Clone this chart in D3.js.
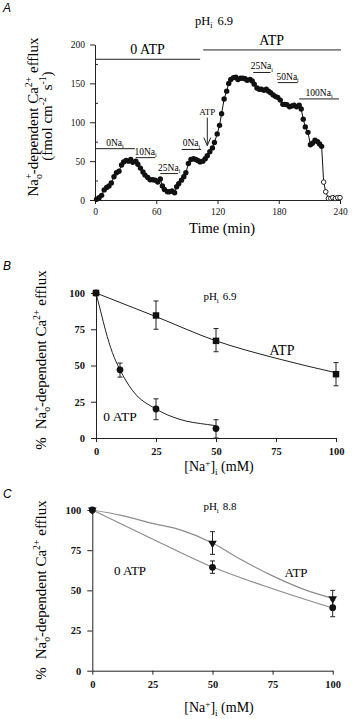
<!DOCTYPE html>
<html><head><meta charset="utf-8">
<script src="https://cdn.jsdelivr.net/npm/d3@7"></script>
<style>html,body{margin:0;padding:0;background:#fff;}svg{display:block;}</style>
</head><body>
<script>
// ---------- Panel A data (time course) ----------
const timeClosed = [1.6,4,6.5,9,11.4,13.7,16,18.6,21,23.5,26,28,30.4,32.7,35,37,40,42,44.5,47,49,51.7,54,56.6,59,61.5,64,66,68,71,73,75.5,78,80,82,84.7,87,89,91.5,94,96.5,98.8,101,103,105.6,108,110,112.5,115,117,119.7,122,124,126.5,129,131,133,135.7,138,140,142.6,145,147,149,152,154,156,158.6,161,163,165.5,167.8,170,172,174.6,177,179,181.5,184,186,188,190.6,193,195,197.5,200,202,204,206,208.6,211,213,215.5,218,220,222];
const effluxClosed = [1,3,6,13,16,18,22,30,35,37,45,49,51,50,52,48.5,50,46,41,36,32,29,26,26,25.5,23,27,18,13.6,10.6,10.6,11.5,9.4,17,21,25.5,30,35,47,52,53,52,50.6,49,50,53,57,62,67,74,85,96,111,130,140,150,155,157.4,158,155,156.6,156.6,156,154,155,153,149,144,142.5,142.5,141,142.5,140,138,135,133,132,128.5,123,123,122.5,120,121,122,120,122,117,104,94,87,71,73,77,75,72,69];
const timeOpen = [224,226,228.6,231,233,235.5,237.7,240];
const effluxOpen = [23,10.6,2,2,3,2,3,3];
const xTicksA = [0,60,120,180,240];
const yTicksA = [0,50,100,150,200];
const yMinorA = [25,75,125,175];
// condition bars: label, start (min), end (min), level (fmol)
const condLabels = ["0Na","10Na","25Na","0Na","25Na","50Na","100Na"];
const condStart  = [0,40,64,85,155,179,200];
const condEnd    = [39,59,81.4,104,172,198.5,239];
const condLevel  = [66,54.5,34,65,164,151,130];
const atpLabels = ["0 ATP","ATP"];
const atpStart = [0,106];
const atpEnd = [103,241];
const atpLevel = [181,193];
const arrowTime = 110, arrowTop = 106, arrowBottom = 70;

// ---------- Panel B data (pHi 6.9) ----------
const naB_ATP = [0,25,50,100];
const effB_ATP = [100,84.5,67,44];
const errLoB_ATP = [100,75,59.5,36];
const errHiB_ATP = [100,94.5,75.5,52];
const naB_0ATP = [0,10,25,50];
const effB_0ATP = [100,47,20,6.5];
const errLoB_0ATP = [100,42,12.6,0];
const errHiB_0ATP = [100,51.7,27,12.6];
const fitB_ATP_x = [0,25,50,75,100];
const fitB_ATP_y = [100,83.7,67,55,45];
const fitB_0ATP_x = [0,2,4,6.8,10,15.1,25,34.6,46.4,50];
const fitB_0ATP_y = [100,87,74,59,47,33,20,13,9.3,8.5];

// ---------- Panel C data (pHi 8.8) ----------
const naC = [0,50,100];
const effC_ATP = [100,79.3,44.8];
const errLoC_ATP = [100,72.4,40];
const errHiC_ATP = [100,86.5,50];
const effC_0ATP = [100,64.3,39.2];
const errLoC_0ATP = [100,60.6,33.6];
const errHiC_0ATP = [100,68.3,44];
const fitC_ATP_x = [0,12.5,25,37,50,62,75,88,100];
const fitC_ATP_y = [100,96.5,91.7,87.5,79.5,69,59,50.6,45];
const fitC_0ATP_x = [0,25,50,75,100];
const fitC_0ATP_y = [100,82,64.5,51,39];
const ticksBC = [0,25,50,75,100];

// ---------- drawing ----------
const serif = "'Liberation Serif','Times New Roman',serif";
const sans = "'Liberation Sans',Arial,sans-serif";
const svg = d3.select("body").append("svg").attr("width",352).attr("height",719)
  .style("font-family", serif);

function rich(text, parts, fs) {
  let shift = 0;
  parts.forEach(p => {
    const target = p.s === "sup" ? -0.38*fs : p.s === "sub" ? 0.25*fs : 0;
    const ts = text.append("tspan").text(p.t).attr("dy", target - shift);
    if (p.s) ts.attr("font-size", fs*0.65);
    if (p.dx) ts.attr("dx", p.dx);
    shift = target;
  });
  return text;
}
function yLabelParts(fs) {
  return [{t:"Na"},{t:"+",s:"sup"},{t:"o",s:"sub",dx:-0.37*fs},{t:"-dependent Ca"},{t:"2+",s:"sup"},{t:" efflux"}];
}
function styleAxis(g, fs, bold) {
  g.select(".domain").attr("stroke","#222").attr("stroke-width",1);
  g.selectAll(".tick line").attr("stroke","#222");
  g.selectAll("text").attr("font-family",serif).attr("font-size",fs).attr("fill","#111")
    .attr("font-weight", bold ? "bold" : "normal");
}

// ===== Panel A =====
const xA = d3.scaleLinear().domain([0,240]).range([95,340]);
const yA = d3.scaleLinear().domain([0,200]).range([200,44.5]);
const gA = svg.append("g");
svg.append("text").attr("x",3).attr("y",12).attr("font-family",sans).attr("font-style","italic")
  .attr("font-size",12).text("A");
gA.append("g").attr("transform","translate(0,200)")
  .call(d3.axisBottom(xA).tickValues(xTicksA).tickSize(4).tickPadding(4).tickSizeOuter(0))
  .call(g => styleAxis(g, 9.5, false));
gA.append("g").attr("transform","translate(95,0)")
  .call(d3.axisLeft(yA).tickValues(yTicksA).tickSize(5).tickPadding(5).tickSizeOuter(0))
  .call(g => styleAxis(g, 9.5, false));
gA.append("g").attr("transform","translate(95,0)")
  .call(d3.axisRight(yA).tickValues(yMinorA).tickSize(3).tickFormat(""))
  .call(g => { g.select(".domain").remove(); g.selectAll(".tick line").attr("stroke","#222"); });

// condition bars
const atpData = atpLabels.map((l,i)=>({l, s:atpStart[i], e:atpEnd[i], v:atpLevel[i]}));
gA.selectAll(".atpbar").data(atpData).enter().append("line")
  .attr("x1",d=>xA(d.s)).attr("x2",d=>xA(d.e)).attr("y1",d=>yA(d.v)).attr("y2",d=>yA(d.v))
  .attr("stroke","#222").attr("stroke-width",1);
gA.selectAll(".atplab").data(atpData).enter().append("text")
  .attr("x",d=>xA((d.s+Math.min(d.e,240))/2)).attr("y",d=>yA(d.v)-5)
  .attr("text-anchor","middle").attr("font-size",14).text(d=>d.l);
const condData = condLabels.map((l,i)=>({l, s:condStart[i], e:condEnd[i], v:condLevel[i]}));
gA.selectAll(".cbar").data(condData).enter().append("line")
  .attr("x1",d=>xA(d.s)).attr("x2",d=>xA(d.e)).attr("y1",d=>yA(d.v)).attr("y2",d=>yA(d.v))
  .attr("stroke","#222").attr("stroke-width",1);
condData.forEach(d => {
  const t = gA.append("text").attr("x",xA((d.s+d.e)/2)).attr("y",yA(d.v)-3)
    .attr("text-anchor","middle").attr("font-size",9.5);
  rich(t,[{t:d.l},{t:"i",s:"sub"}],9.5);
});
// ATP arrow
gA.append("line").attr("x1",xA(arrowTime)).attr("x2",xA(arrowTime))
  .attr("y1",yA(arrowTop)).attr("y2",yA(arrowBottom)).attr("stroke","#222");
gA.append("path").attr("d",`M${xA(arrowTime)-3.5},${yA(arrowBottom)-8}L${xA(arrowTime)},${yA(arrowBottom)}L${xA(arrowTime)+3.5},${yA(arrowBottom)-8}`)
  .attr("fill","none").attr("stroke","#222");
gA.append("text").attr("x",xA(arrowTime)).attr("y",yA(arrowTop)-3).attr("text-anchor","middle")
  .attr("font-size",9).text("ATP");

// trace
const allA = timeClosed.map((t,i)=>[t,effluxClosed[i]]).concat(timeOpen.map((t,i)=>[t,effluxOpen[i]]));
gA.append("path").datum(allA).attr("fill","none").attr("stroke","#111").attr("stroke-width",1)
  .attr("d", d3.line().x(d=>xA(d[0])).y(d=>yA(d[1])));
gA.selectAll(".cpt").data(timeClosed.map((t,i)=>[t,effluxClosed[i]])).enter().append("circle")
  .attr("cx",d=>xA(d[0])).attr("cy",d=>yA(d[1])).attr("r",2.7).attr("fill","#111");
gA.selectAll(".opt").data(timeOpen.map((t,i)=>[t,effluxOpen[i]])).enter().append("circle")
  .attr("cx",d=>xA(d[0])).attr("cy",d=>yA(d[1])).attr("r",2.3).attr("fill","#fff")
  .attr("stroke","#111").attr("stroke-width",0.9);

// labels A
rich(gA.append("text").attr("x",214).attr("y",25).attr("text-anchor","middle").attr("font-size",12.5),
  [{t:"pH"},{t:"i",s:"sub"},{t:"6.9",dx:5}],12.5);
gA.append("text").attr("x",222).attr("y",233).attr("text-anchor","middle").attr("font-size",14.5).text("Time (min)");
rich(gA.append("text").attr("transform","translate(38,117) rotate(-90)").attr("text-anchor","middle").attr("font-size",15),
  yLabelParts(15),15);
rich(gA.append("text").attr("transform","translate(52,116) rotate(-90)").attr("text-anchor","middle").attr("font-size",15),
  [{t:"(fmol  cm"},{t:"-2",s:"sup"},{t:"  s",dx:3},{t:"-1",s:"sup"},{t:")"}],15);

// ===== generic dose panel =====
function dosePanel(cfg) {
  const g = svg.append("g");
  const x = d3.scaleLinear().domain([0,100]).range(cfg.xr);
  const y = d3.scaleLinear().domain([0,100]).range(cfg.yr);
  svg.append("text").attr("x",3).attr("y",cfg.letterY).attr("font-family",sans).attr("font-style","italic")
    .attr("font-size",12).text(cfg.letter);
  g.append("g").attr("transform",`translate(0,${cfg.yr[0]})`)
    .call(d3.axisBottom(x).tickValues(ticksBC).tickSize(4).tickPadding(cfg.xPad).tickSizeOuter(0))
    .call(a => styleAxis(a, 10.5, true));
  g.append("g").attr("transform",`translate(${cfg.xr[0]},0)`)
    .call(d3.axisLeft(y).tickValues(ticksBC).tickSize(5).tickPadding(6).tickSizeOuter(0))
    .call(a => styleAxis(a, 10.5, true));
  cfg.fits.forEach(f => {
    g.append("path").datum(f.xs.map((v,i)=>[v,f.ys[i]])).attr("fill","none")
      .attr("stroke",cfg.lineColor).attr("stroke-width",cfg.lineWidth)
      .attr("d", d3.line().curve(d3.curveMonotoneX).x(d=>x(d[0])).y(d=>y(d[1])));
  });
  cfg.series.forEach(s => {
    s.xs.forEach((v,i) => {
      if (s.lo[i] === s.hi[i]) return;
      const cx = x(v);
      g.append("line").attr("x1",cx).attr("x2",cx).attr("y1",y(s.lo[i])).attr("y2",y(s.hi[i])).attr("stroke","#222");
      [s.lo[i], s.hi[i]].forEach(e => g.append("line").attr("x1",cx-2.5).attr("x2",cx+2.5)
        .attr("y1",y(e)).attr("y2",y(e)).attr("stroke","#222"));
    });
  });
  cfg.series.forEach(s => {
    g.selectAll(null).data(s.xs.map((v,i)=>[v,s.ys[i]])).enter().append("path")
      .attr("transform", d => `translate(${x(d[0])},${y(d[1])})` + (s.rot ? " rotate(180)" : ""))
      .attr("d", d3.symbol().type(s.sym).size(s.size)()).attr("fill","#111");
  });
  cfg.texts.forEach(tx => {
    const t = g.append("text").attr("x",tx.x).attr("y",tx.y).attr("text-anchor","middle").attr("font-size",tx.fs);
    rich(t, tx.parts, tx.fs);
  });
  const ylab = g.append("text").attr("transform",`translate(46,${cfg.ylabY}) rotate(-90)`).attr("text-anchor","middle").attr("font-size",15);
  rich(ylab, [{t:"%"},{t:"Na",dx:8}].concat(yLabelParts(15).slice(1)), 15);
  rich(g.append("text").attr("x",219).attr("y",cfg.xlabY).attr("text-anchor","middle").attr("font-size",14),
    [{t:"[Na"},{t:"+",s:"sup"},{t:"]"},{t:"i",s:"sub"},{t:" (mM)"}],14);
}

dosePanel({
  letter:"B", letterY:270, xr:[96,336], yr:[438,293], xPad:5.5, ylabY:360, xlabY:471,
  lineColor:"#222", lineWidth:1,
  fits:[{xs:fitB_ATP_x, ys:fitB_ATP_y},{xs:fitB_0ATP_x, ys:fitB_0ATP_y}],
  series:[
    {xs:naB_ATP, ys:effB_ATP, lo:errLoB_ATP, hi:errHiB_ATP, sym:d3.symbolSquare, size:42},
    {xs:naB_0ATP, ys:effB_0ATP, lo:errLoB_0ATP, hi:errHiB_0ATP, sym:d3.symbolCircle, size:36}
  ],
  texts:[
    {x:220, y:300, fs:11, parts:[{t:"pH"},{t:"i",s:"sub"},{t:"6.9",dx:4}]},
    {x:282, y:355, fs:14, parts:[{t:"ATP"}]},
    {x:120, y:421, fs:13.5, parts:[{t:"0 ATP"}]}
  ]
});

dosePanel({
  letter:"C", letterY:498, xr:[92.3,332.7], yr:[670.7,510], xPad:6, ylabY:590, xlabY:712,
  lineColor:"#8c8c8c", lineWidth:1.2,
  fits:[{xs:fitC_ATP_x, ys:fitC_ATP_y},{xs:fitC_0ATP_x, ys:fitC_0ATP_y}],
  series:[
    {xs:naC, ys:effC_ATP, lo:errLoC_ATP, hi:errHiC_ATP, sym:d3.symbolTriangle, size:32, rot:true},
    {xs:naC, ys:effC_0ATP, lo:errLoC_0ATP, hi:errHiC_0ATP, sym:d3.symbolCircle, size:36}
  ],
  texts:[
    {x:220, y:510, fs:11, parts:[{t:"pH"},{t:"i",s:"sub"},{t:"8.8",dx:4}]},
    {x:296, y:577, fs:13, parts:[{t:"ATP"}]},
    {x:130, y:575, fs:13, parts:[{t:"0 ATP"}]}
  ]
});
</script>
</body></html>
